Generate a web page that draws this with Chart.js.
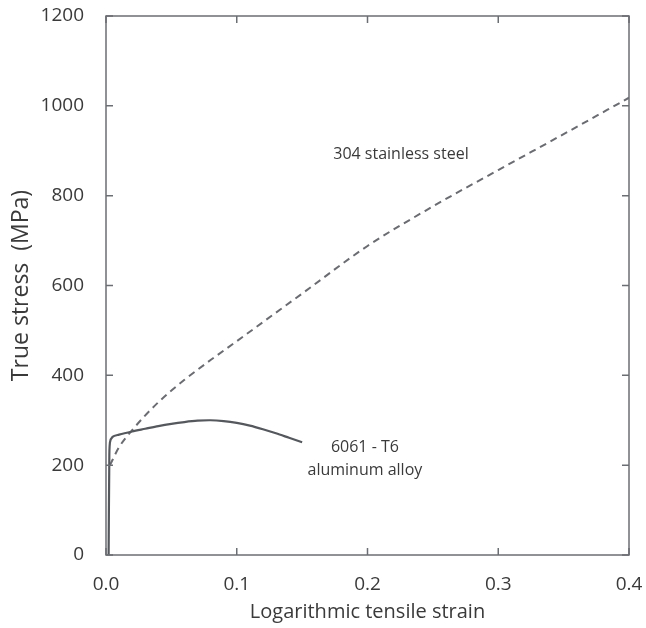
<!DOCTYPE html>
<html>
<head>
<meta charset="utf-8">
<script src="https://cdn.jsdelivr.net/npm/chart.js@4/dist/chart.umd.min.js"></script>
<style>
  html, body { margin: 0; padding: 0; background: #fff; }
  #wrap { width: 646px; height: 628px; position: relative; }
</style>
</head>
<body>
<div id="wrap"><canvas id="chart"></canvas></div>
<script>
// 6061-T6 aluminum alloy (solid)
const alStrain = [0.002, 0.0025, 0.003, 0.005, 0.01, 0.02, 0.03, 0.04, 0.05, 0.06, 0.07, 0.08, 0.09, 0.10, 0.11, 0.12, 0.13, 0.14, 0.15];
const alStress = [0,     200,    250,   263,   268,  275,  281,  287,  292,  296,  299,  300,  298,  294,  288,  280,  271,  261,  251];

// 304 stainless steel (dashed)
const ssStrain = [0.003, 0.01, 0.02, 0.04, 0.06, 0.08, 0.10, 0.15, 0.20, 0.25, 0.30, 0.35, 0.40];
const ssStress = [200,   240,  278,  340,  390,  434,  476,  582,  688,  776,  857,  937,  1018];

const xTicks = [0.0, 0.1, 0.2, 0.3, 0.4];
const yTicks = [0, 200, 400, 600, 800, 1000, 1200];

const notes = [
  { text: '304 stainless steel', x: 0.2256, y: 891 },
  { text: '6061 - T6', x: 0.198, y: 240 },
  { text: 'aluminum alloy', x: 0.198, y: 189 },
];

const FONT = '"Open Sans", "Noto Sans", sans-serif';
const AXIS = '#6b6e73';
const TEXT = '#3a3a3a';

const toPts = (xs, ys) => xs.map((x, i) => ({ x, y: ys[i] }));

// frame with inward ticks on all four sides, plus the curve labels
const framePlugin = {
  id: 'frame',
  afterDatasetsDraw(chart) {
    const { ctx, chartArea: a, scales: { x, y } } = chart;
    ctx.save();
    ctx.strokeStyle = AXIS;
    ctx.lineWidth = 1.5;
    ctx.strokeRect(a.left, a.top, a.right - a.left, a.bottom - a.top);
    ctx.beginPath();
    xTicks.forEach(v => {
      const px = x.getPixelForValue(v);
      ctx.moveTo(px, a.bottom); ctx.lineTo(px, a.bottom - 7);
      ctx.moveTo(px, a.top);    ctx.lineTo(px, a.top + 7);
    });
    yTicks.forEach(v => {
      const py = y.getPixelForValue(v);
      ctx.moveTo(a.left, py);  ctx.lineTo(a.left + 7, py);
      ctx.moveTo(a.right, py); ctx.lineTo(a.right - 7, py);
    });
    ctx.stroke();

    ctx.fillStyle = TEXT;
    ctx.font = '16px ' + FONT;
    ctx.textAlign = 'center';
    ctx.textBaseline = 'middle';
    notes.forEach(n => ctx.fillText(n.text, x.getPixelForValue(n.x), y.getPixelForValue(n.y)));
    ctx.restore();
  }
};

new Chart(document.getElementById('chart'), {
  type: 'line',
  data: {
    datasets: [
      {
        label: '6061 - T6 aluminum alloy',
        data: toPts(alStrain, alStress),
        borderColor: '#55585d', borderWidth: 2.2, pointRadius: 0,
        tension: 0.3, fill: false,
      },
      {
        label: '304 stainless steel',
        data: toPts(ssStrain, ssStress),
        borderColor: '#6a6c72', borderWidth: 2, borderDash: [7, 5], pointRadius: 0,
        cubicInterpolationMode: 'monotone', fill: false,
      },
    ],
  },
  options: {
    responsive: true, maintainAspectRatio: false, animation: false,
    layout: { padding: { top: 16, right: 17, left: 0, bottom: 0 } },
    plugins: { legend: { display: false }, tooltip: { enabled: false } },
    scales: {
      x: {
        type: 'linear', min: 0, max: 0.4,
        afterBuildTicks: s => { s.ticks = xTicks.map(v => ({ value: v })); },
        afterFit: s => { s.height = 73; s.paddingLeft = 0; s.paddingRight = 0; },
        grid: { display: false }, border: { display: false },
        ticks: { color: TEXT, font: { family: FONT, size: 19 }, padding: 10, maxRotation: 0,
                 callback: v => v.toFixed(1) },
        title: { display: true, text: 'Logarithmic tensile strain', color: TEXT,
                 font: { family: FONT, size: 20 }, padding: { top: 2 } },
      },
      y: {
        type: 'linear', min: 0, max: 1200,
        afterBuildTicks: s => { s.ticks = yTicks.map(v => ({ value: v })); },
        afterFit: s => { s.width = 106; s.paddingTop = 0; s.paddingBottom = 0; },
        grid: { display: false }, border: { display: false },
        ticks: { color: TEXT, font: { family: FONT, size: 19 }, padding: 14,
                 callback: v => String(v) },
        title: { display: true, text: 'True stress  (MPa)', color: TEXT,
                 font: { family: FONT, size: 23 }, padding: { top: 8, bottom: 2 } },
      },
    },
  },
  plugins: [framePlugin],
});
</script>
</body>
</html>
